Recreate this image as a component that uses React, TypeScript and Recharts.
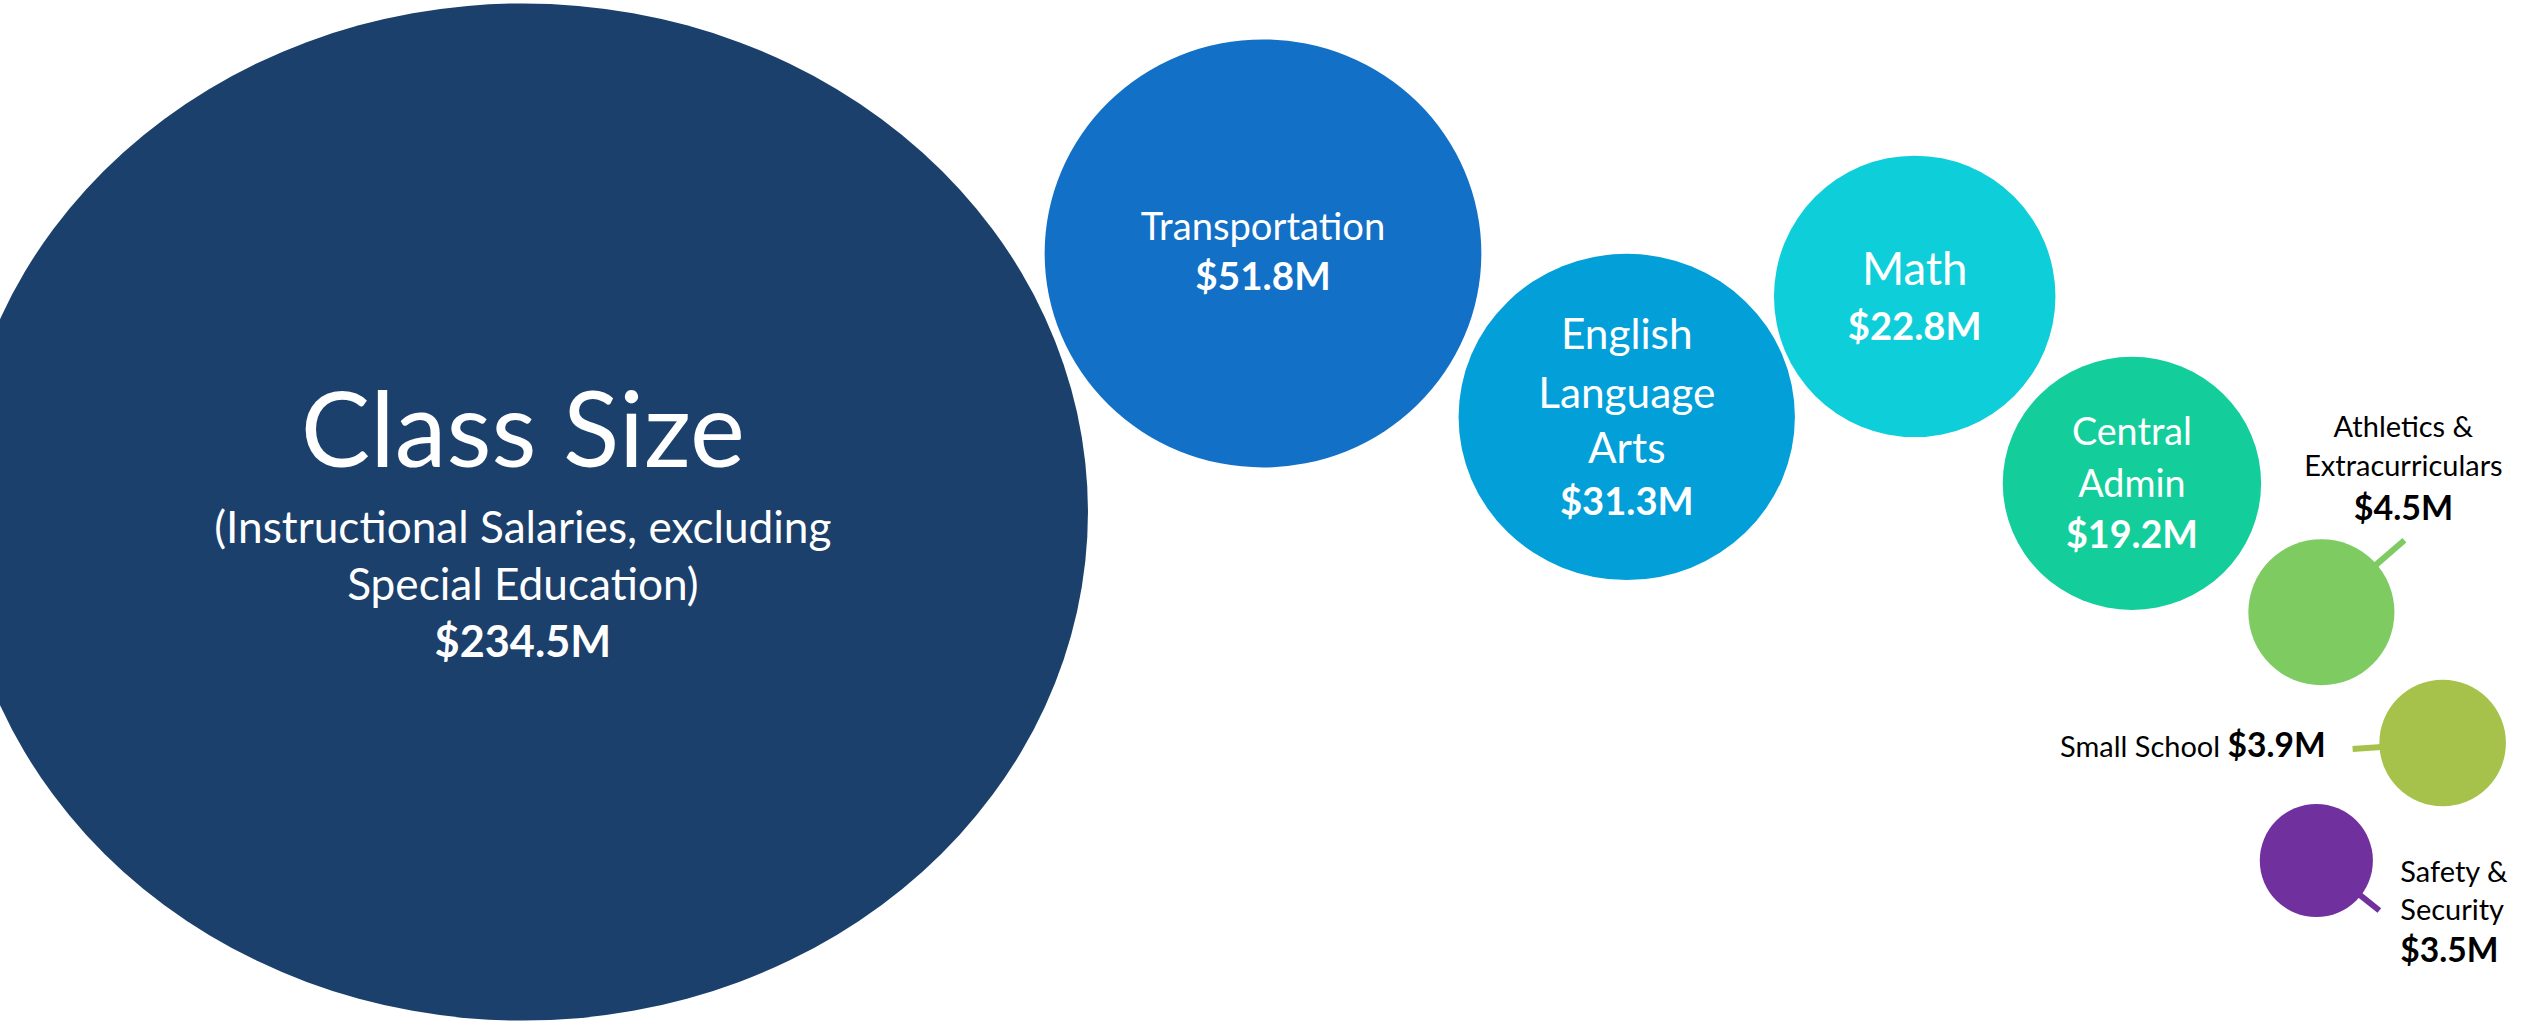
import React from 'react';
import { ScatterChart, Scatter, XAxis, YAxis, ZAxis, Cell } from 'recharts';

// spending areas, $ millions
const categories = [
  'Class Size',
  'Transportation',
  'English Language Arts',
  'Math',
  'Central Admin',
  'Athletics & Extracurriculars',
  'Small School',
  'Safety & Security',
];
const nameLines = [
  ['Class Size'],
  ['Transportation'],
  ['English', 'Language', 'Arts'],
  ['Math'],
  ['Central', 'Admin'],
  ['Athletics &', 'Extracurriculars'],
  ['Small School'],
  ['Safety &', 'Security'],
];
const notes = [['(Instructional Salaries, excluding', 'Special Education)'], [], [], [], [], [], [], []];
const values = [234.5, 51.8, 31.3, 22.8, 19.2, 4.5, 3.9, 3.5];

// where each bubble sits on a 0-100 grid
const xPos = [20.7, 50.0, 64.4, 75.8, 84.4, 91.9, 96.7, 91.7];
const yPos = [49.9, 75.2, 59.2, 71.0, 52.7, 40.1, 27.3, 15.8];

const COLORS = ['#1B406C', '#1270C6', '#039FD9', '#0ECFD9', '#13CE9A', '#7ECB62', '#A6C24A', '#70309E'];
// [x, y] stretch of each bubble; the original graphic isn't drawn to a strict scale
const STRETCH: [number, number][] = [
  [1.23, 1.107],
  [1.01, 0.99],
  [1.0, 0.97],
  [0.98, 0.98],
  [0.98, 0.96],
  [1.14, 1.14],
  [1.06, 1.06],
  [1.0, 1.0],
];

const FONT = 'Lato, "Noto Sans", sans-serif';
const K = 0.92; // Lato runs a bit wider than the original font

type Layout = {
  dx: number;
  anchor: 'start' | 'middle' | 'end';
  color: string;
  sizes: number[];
  dys: number[];
  inline?: boolean;
  leader?: [number, number];
};

const LAYOUT: Layout[] = [
  { dx: 0, anchor: 'middle', color: '#fff', sizes: [113, 48, 48, 47], dys: [-45, 31, 88, 145] },
  { dx: 0, anchor: 'middle', color: '#fff', sizes: [41.5, 42], dys: [-13, 37] },
  { dx: 0, anchor: 'middle', color: '#fff', sizes: [46, 46, 46, 41.5], dys: [-68, -9, 46, 98] },
  { dx: 0, anchor: 'middle', color: '#fff', sizes: [49.5, 41.5], dys: [-11, 44] },
  { dx: 0, anchor: 'middle', color: '#fff', sizes: [41, 41, 41], dys: [-38, 14, 65] },
  { dx: 82, anchor: 'middle', color: '#000', sizes: [31.5, 31.5, 37], dys: [-175, -136, -92], leader: [83, -72] },
  { dx: -117, anchor: 'end', color: '#000', sizes: [31.5, 36.5], dys: [14], inline: true, leader: [-90, 6] },
  { dx: 84, anchor: 'start', color: '#000', sizes: [31.5, 31.5, 36.5], dys: [21, 59, 101], leader: [63, 50] },
];

const money = (v: number) => `$${v.toFixed(1)}M`;

const Bubble = (props: any) => {
  const { cx, cy, fill, payload } = props;
  const i: number = payload.idx;
  // ZAxis output is used as the radius
  const r = typeof props.size === 'number' ? props.size : Math.PI * Math.pow(props.width / 2, 2);
  const lay = LAYOUT[i];
  const lines = [...nameLines[i], ...notes[i], money(values[i])];
  const [sx, sy] = STRETCH[i];

  let leader = null;
  if (lay.leader) {
    const [ex, ey] = lay.leader;
    const d = Math.sqrt(ex * ex + ey * ey);
    const x1 = cx + (ex / d) * (r * sx - 2);
    const y1 = cy + (ey / d) * (r * sy - 2);
    leader = <line x1={x1} y1={y1} x2={cx + ex} y2={cy + ey} stroke={fill} strokeWidth={6} />;
  }

  return (
    <g>
      <ellipse cx={cx} cy={cy} rx={r * sx} ry={r * sy} fill={fill} />
      {leader}
      {lay.inline ? (
        <text x={cx + lay.dx} y={cy + lay.dys[0]} textAnchor={lay.anchor} fill={lay.color} fontFamily={FONT}>
          <tspan fontSize={lay.sizes[0] * K}>{lines[0] + ' '}</tspan>
          <tspan fontSize={lay.sizes[1] * K} fontWeight={700}>
            {lines[1]}
          </tspan>
        </text>
      ) : (
        lines.map((t, j) => (
          <text
            key={j}
            x={cx + lay.dx}
            y={cy + lay.dys[j]}
            textAnchor={lay.anchor}
            fill={lay.color}
            fontFamily={FONT}
            fontSize={lay.sizes[j] * K}
            fontWeight={j === lines.length - 1 ? 700 : 400}
          >
            {t}
          </text>
        ))
      )}
    </g>
  );
};

export default function App() {
  const rows = values.map((v, i) => ({ idx: i, name: categories[i], x: xPos[i], y: yPos[i], value: v }));

  return (
    <div style={{ position: 'fixed', left: 0, top: 0, width: 2526, height: 1022, background: '#fff', overflow: 'hidden' }}>
      <ScatterChart width={2526} height={1022} margin={{ top: 0, right: 0, bottom: 0, left: 0 }}>
        <XAxis type="number" dataKey="x" domain={[0, 100]} hide />
        <YAxis type="number" dataKey="y" domain={[0, 100]} hide />
        <ZAxis type="number" dataKey="value" domain={[0, 256]} range={[0.5, 480]} scale="sqrt" />
        <Scatter data={rows} shape={Bubble} isAnimationActive={false}>
          {rows.map((row) => (
            <Cell key={row.name} fill={COLORS[row.idx]} />
          ))}
        </Scatter>
      </ScatterChart>
    </div>
  );
}
